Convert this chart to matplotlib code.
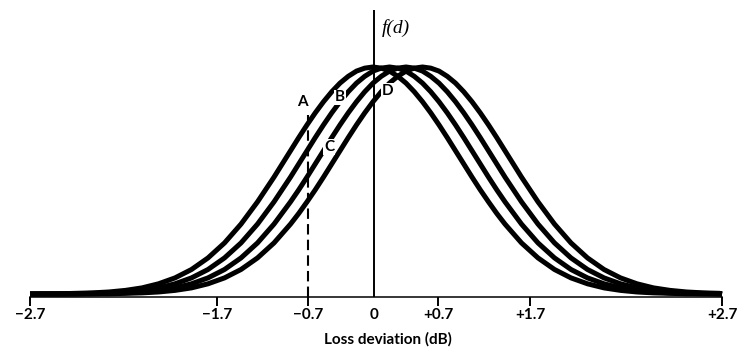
import numpy as np
import matplotlib
matplotlib.use("Agg")
import matplotlib.pyplot as plt

# horizontal drawing position (the axis is only labelled, not to scale)
pos = [-344, -331, -314.5, -298, -281.5, -265, -248.5, -232, -215.5, -199, -182.5,
       -166, -149.5, -133, -116.5, -100, -83.5,
       -75.25, -67, -58.75, -50.5, -42.25, -34, -25.75, -17.5, -9.25, -1, 7.25, 15.5, 23.75,
       32, 40.25, 48.5, 56.75, 65, 73.25, 81.5, 89.75, 98, 106.25, 114.5, 122.75, 131,
       147.5, 164, 180.5, 197, 213.5, 230, 246.5, 263, 279.5, 296, 312.5, 329, 345.5, 348]

# f(d), relative to the peak
curve_a = [0, 0.001, 0.001, 0.003, 0.005, 0.009, 0.016, 0.027, 0.045, 0.071, 0.108,
           0.159, 0.225, 0.308, 0.406, 0.515, 0.631,
           0.689, 0.745, 0.798, 0.847, 0.891, 0.929, 0.959, 0.982, 0.995, 1.000, 0.995, 0.982, 0.959,
           0.929, 0.891, 0.847, 0.798, 0.745, 0.689, 0.631, 0.573, 0.515, 0.459, 0.406, 0.355, 0.308,
           0.225, 0.159, 0.108, 0.071, 0.045, 0.027, 0.016, 0.009, 0.005, 0.003, 0.001, 0.001, 0.000, 0]
curve_b = [0, 0.000, 0.001, 0.001, 0.003, 0.005, 0.009, 0.016, 0.027, 0.045, 0.071,
           0.108, 0.159, 0.225, 0.308, 0.406, 0.515,
           0.573, 0.631, 0.689, 0.745, 0.798, 0.847, 0.891, 0.929, 0.959, 0.982, 0.995, 1.000, 0.995,
           0.982, 0.959, 0.929, 0.891, 0.847, 0.798, 0.745, 0.689, 0.631, 0.573, 0.515, 0.459, 0.406,
           0.308, 0.225, 0.159, 0.108, 0.071, 0.045, 0.027, 0.016, 0.009, 0.005, 0.003, 0.001, 0.001, 0]
curve_c = [0, 0.000, 0.000, 0.001, 0.001, 0.003, 0.005, 0.009, 0.016, 0.027, 0.045,
           0.071, 0.108, 0.159, 0.225, 0.308, 0.406,
           0.459, 0.515, 0.573, 0.631, 0.689, 0.745, 0.798, 0.847, 0.891, 0.929, 0.959, 0.982, 0.995,
           1.000, 0.995, 0.982, 0.959, 0.929, 0.891, 0.847, 0.798, 0.745, 0.689, 0.631, 0.573, 0.515,
           0.406, 0.308, 0.225, 0.159, 0.108, 0.071, 0.045, 0.027, 0.016, 0.009, 0.005, 0.003, 0.001, 0]
curve_d = [0, 0.000, 0.000, 0.000, 0.001, 0.001, 0.003, 0.005, 0.009, 0.016, 0.027,
           0.045, 0.071, 0.108, 0.159, 0.225, 0.308,
           0.355, 0.406, 0.459, 0.515, 0.573, 0.631, 0.689, 0.745, 0.798, 0.847, 0.891, 0.929, 0.959,
           0.982, 0.995, 1.000, 0.995, 0.982, 0.959, 0.929, 0.891, 0.847, 0.798, 0.745, 0.689, 0.631,
           0.515, 0.406, 0.308, 0.225, 0.159, 0.108, 0.071, 0.045, 0.027, 0.016, 0.009, 0.005, 0.003, 0]

tick_pos = [-344, -157, -66, 0, 64, 156, 348]
tick_labels = ["\u22122.7", "\u22121.7", "\u22120.7", "0", "+0.7", "+1.7", "+2.7"]
marker_x = -66      # dashed line at -0.7 dB
marker_top = 0.789

plt.rcParams['font.family'] = ['Lato', 'DejaVu Sans']

fig = plt.figure(figsize=(7.39, 3.54), dpi=100)
ax = fig.add_axes([0.0406, 0.1624, 0.9364, 0.8093])

for ys in [curve_a, curve_b, curve_c, curve_d]:
    ax.plot(pos, ys, color='black', lw=3.6, solid_capstyle='butt',
            solid_joinstyle='round', clip_on=False)

ax.axvline(0, color='black', lw=1.4)
ax.plot([marker_x, marker_x], [-0.011, marker_top], color='black', lw=1.5,
        dashes=(5, 2.5))

ax.text(-72, 0.844, "A", fontsize=11, fontweight='bold', ha='center', va='center')
for lab, x, y in [("B", -34, 0.866), ("C", -45, 0.648), ("D", 14, 0.894)]:
    ax.text(x, y, lab, fontsize=11, fontweight='bold', ha='center', va='center',
            bbox=dict(facecolor='white', edgecolor='none', pad=0.6))

ax.text(8, 1.17, "f(d)", fontsize=14, style='italic', family='Liberation Serif',
        ha='left', va='center')

ax.set_xlim(-344, 348)
ax.set_ylim(-0.011, 1.251)
for s in ['left', 'right', 'top']:
    ax.spines[s].set_visible(False)
ax.spines['bottom'].set_linewidth(1.1)
ax.set_yticks([])
ax.set_xticks(tick_pos, tick_labels, fontsize=11, fontweight='bold')
ax.tick_params(axis='x', length=6.5, width=1.4, pad=2)
ax.xaxis.get_major_ticks()[3].tick1line.set_visible(False)

ax.set_xlabel("Loss deviation (dB)", fontsize=11, fontweight='bold')
ax.xaxis.set_label_coords(0.5166, -0.124)

fig.savefig("out.png", dpi=100)
